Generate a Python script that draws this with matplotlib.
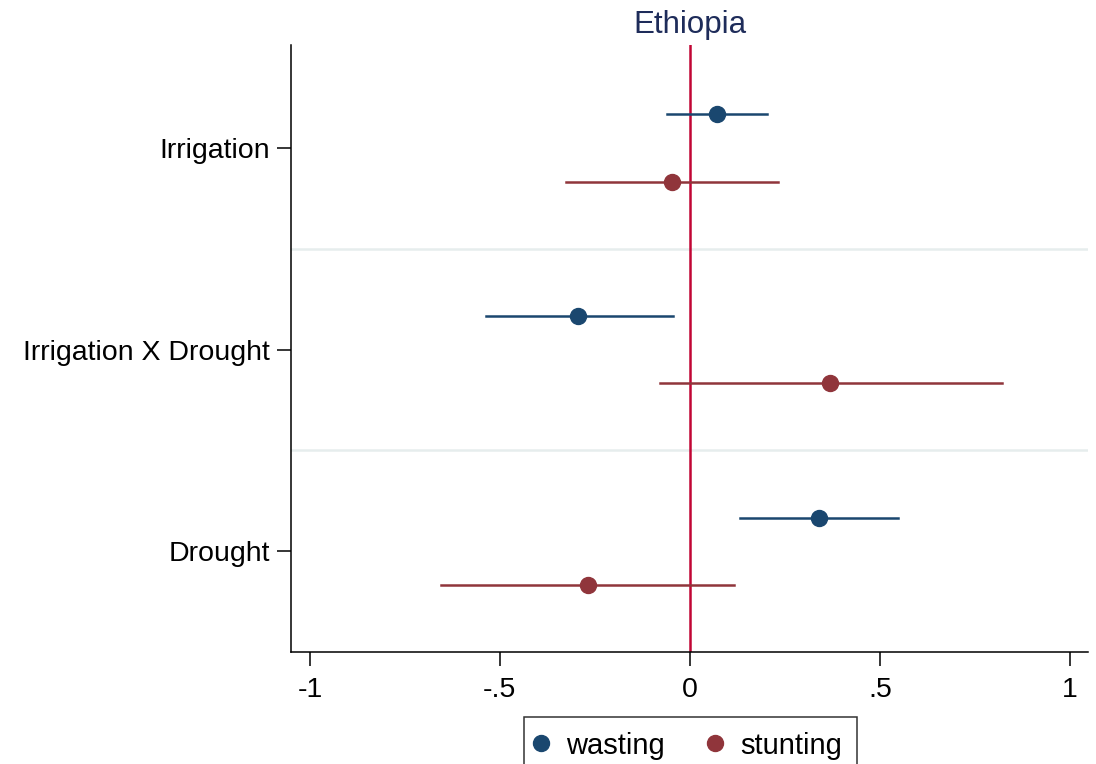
import matplotlib
matplotlib.use("Agg")
import matplotlib.pyplot as plt
from matplotlib.lines import Line2D

plt.rcParams['font.family'] = ['Liberation Sans', 'DejaVu Sans']

categories = ["Irrigation", "Irrigation X Drought", "Drought"]
wasting_est = [0.071, -0.295, 0.339]
wasting_lo = [-0.061, -0.537, 0.132]
wasting_hi = [0.203, -0.045, 0.547]
stunting_est = [-0.047, 0.368, -0.268]
stunting_lo = [-0.326, -0.079, -0.655]
stunting_hi = [0.232, 0.821, 0.116]
xticks = [-1, -0.5, 0, 0.5, 1]
xticklabels = ["-1", "-.5", "0", ".5", "1"]

c_w = "#1a476f"
c_s = "#90353b"

fig = plt.figure(figsize=(10.96, 7.64), dpi=100)
ax = fig.add_axes([0.2655, 0.1466, 0.7272, 0.7944])

ypos = list(range(1, len(categories) + 1))
off = 0.167

for i, y in enumerate(ypos):
    ax.plot([wasting_lo[i], wasting_hi[i]], [y - off, y - off], color=c_w, lw=1.8, zorder=3)
    ax.plot(wasting_est[i], y - off, 'o', color=c_w, ms=11.5, zorder=4)
    ax.plot([stunting_lo[i], stunting_hi[i]], [y + off, y + off], color=c_s, lw=1.8, zorder=3)
    ax.plot(stunting_est[i], y + off, 'o', color=c_s, ms=11.5, zorder=4)

ax.axvline(0, color="#c10534", lw=1.8, zorder=2)
for yb in [1.5, 2.5]:
    ax.axhline(yb, color="#e6eded", lw=1.8, zorder=1)

ax.set_xlim(-1.05, 1.048)
ax.set_ylim(3.5, 0.49)
ax.set_yticks(ypos)
ax.set_yticklabels(categories, fontsize=20.5)
ax.set_xticks(xticks)
ax.set_xticklabels(xticklabels, fontsize=20.5)
ax.tick_params(axis='y', length=10, width=1.1, color='black', pad=5)
ax.tick_params(axis='x', length=10, width=1.1, color='black', pad=8)
for s in ['top', 'right']:
    ax.spines[s].set_visible(False)
for s in ['left', 'bottom']:
    ax.spines[s].set_linewidth(1.1)

ax.set_title("Ethiopia", fontsize=22.5, color="#1e2c5a", pad=9)

handles = [Line2D([], [], marker='o', ls='', color=c_w, ms=11.5, label='wasting'),
           Line2D([], [], marker='o', ls='', color=c_s, ms=11.5, label='stunting')]
leg = fig.legend(handles=handles, loc='upper center', bbox_to_anchor=(0.6296, 0.0615),
                 ncol=2, fontsize=21, frameon=True, fancybox=False, edgecolor='black',
                 borderpad=0.5, handletextpad=0.75, columnspacing=1.64, handlelength=0.2,
                 borderaxespad=0)
leg.get_frame().set_linewidth(1.1)

fig.savefig("out.png", dpi=100)
